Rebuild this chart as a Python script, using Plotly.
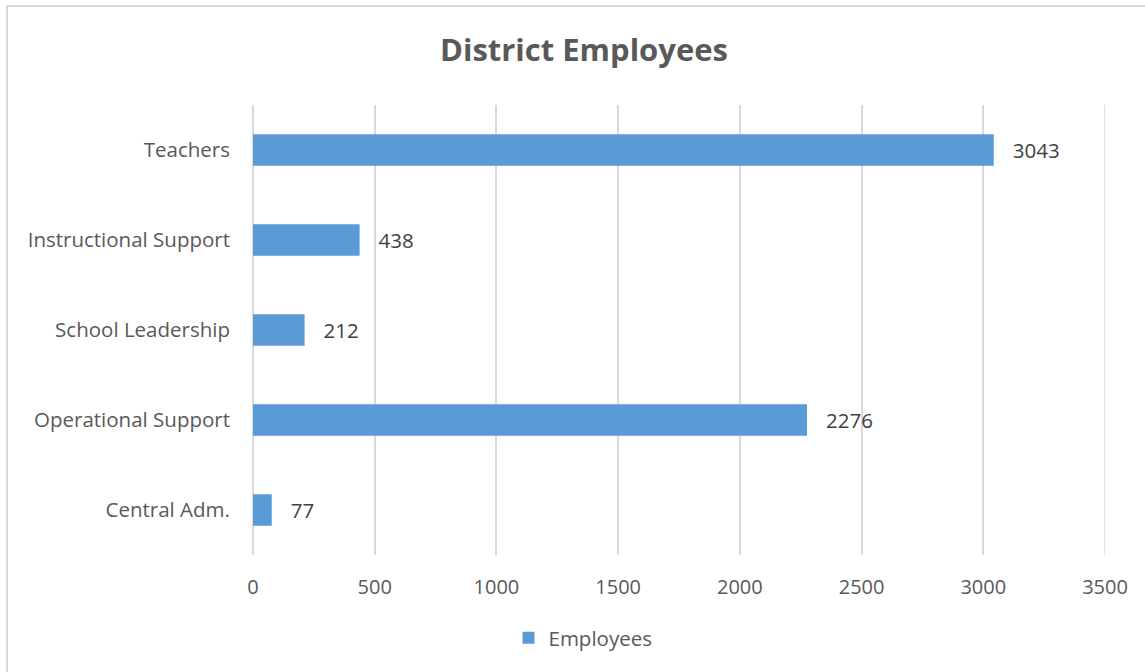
import plotly.graph_objects as go

categories = ["Central Adm.", "Operational Support", "School Leadership", "Instructional Support", "Teachers"]
employees = [77, 2276, 212, 438, 3043]
x_ticks = [0, 500, 1000, 1500, 2000, 2500, 3000, 3500]

W, H = 1145, 672
L, R, T, B = 253, 40, 105, 117

fig = go.Figure()
fig.add_trace(go.Bar(
    y=categories, x=employees, orientation="h", name="Employees",
    marker=dict(color="#5B9BD5", line=dict(width=0)),
    text=employees, texttemplate="   %{x}", textposition="outside",
    textfont=dict(size=20.5, color="#404040", family="Open Sans"),
    cliponaxis=False,
))

pw = W - L - R
ph = H - T - B
def px2x(p): return (p - L) / pw
def py2y(p): return (H - B - p) / ph

fig.update_layout(
    width=W, height=H,
    margin=dict(l=L, r=R, t=T, b=B),
    paper_bgcolor="white", plot_bgcolor="white",
    font=dict(family="Open Sans", color="#595959", size=20),
    title=dict(text="<b>District Employees</b>", x=px2x(584), xref="paper", xanchor="center",
               y=1 - 50 / H, yanchor="middle", font=dict(size=31, color="#595959")),
    bargap=0.65,
    showlegend=True,
    legend=dict(orientation="h", x=px2x(583), xanchor="center", y=py2y(638), yanchor="middle",
                font=dict(size=20.5, color="#595959"), itemwidth=30),
    xaxis=dict(range=[x_ticks[0], x_ticks[-1]], tickvals=x_ticks, showgrid=True, gridcolor="#d9d9d9", gridwidth=1.5,
               zeroline=True, zerolinecolor="#d9d9d9", zerolinewidth=1.5, showline=False,
               ticklabelstandoff=18, tickfont=dict(size=20, color="#595959")),
    yaxis=dict(showgrid=False, zeroline=False, showline=False, ticklabelstandoff=22,
               tickfont=dict(size=20.5, color="#595959")),
    shapes=[dict(type="rect", xref="paper", yref="paper",
                 x0=px2x(7), y0=py2y(800), x1=px2x(1200), y1=py2y(6),
                 line=dict(color="#d9d9d9", width=2), layer="below"),
            dict(type="line", xref="x", yref="paper", x0=x_ticks[-1], x1=x_ticks[-1], y0=0, y1=1,
                 line=dict(color="#d9d9d9", width=1.5), layer="below")],
)

fig.write_html("out.html")
